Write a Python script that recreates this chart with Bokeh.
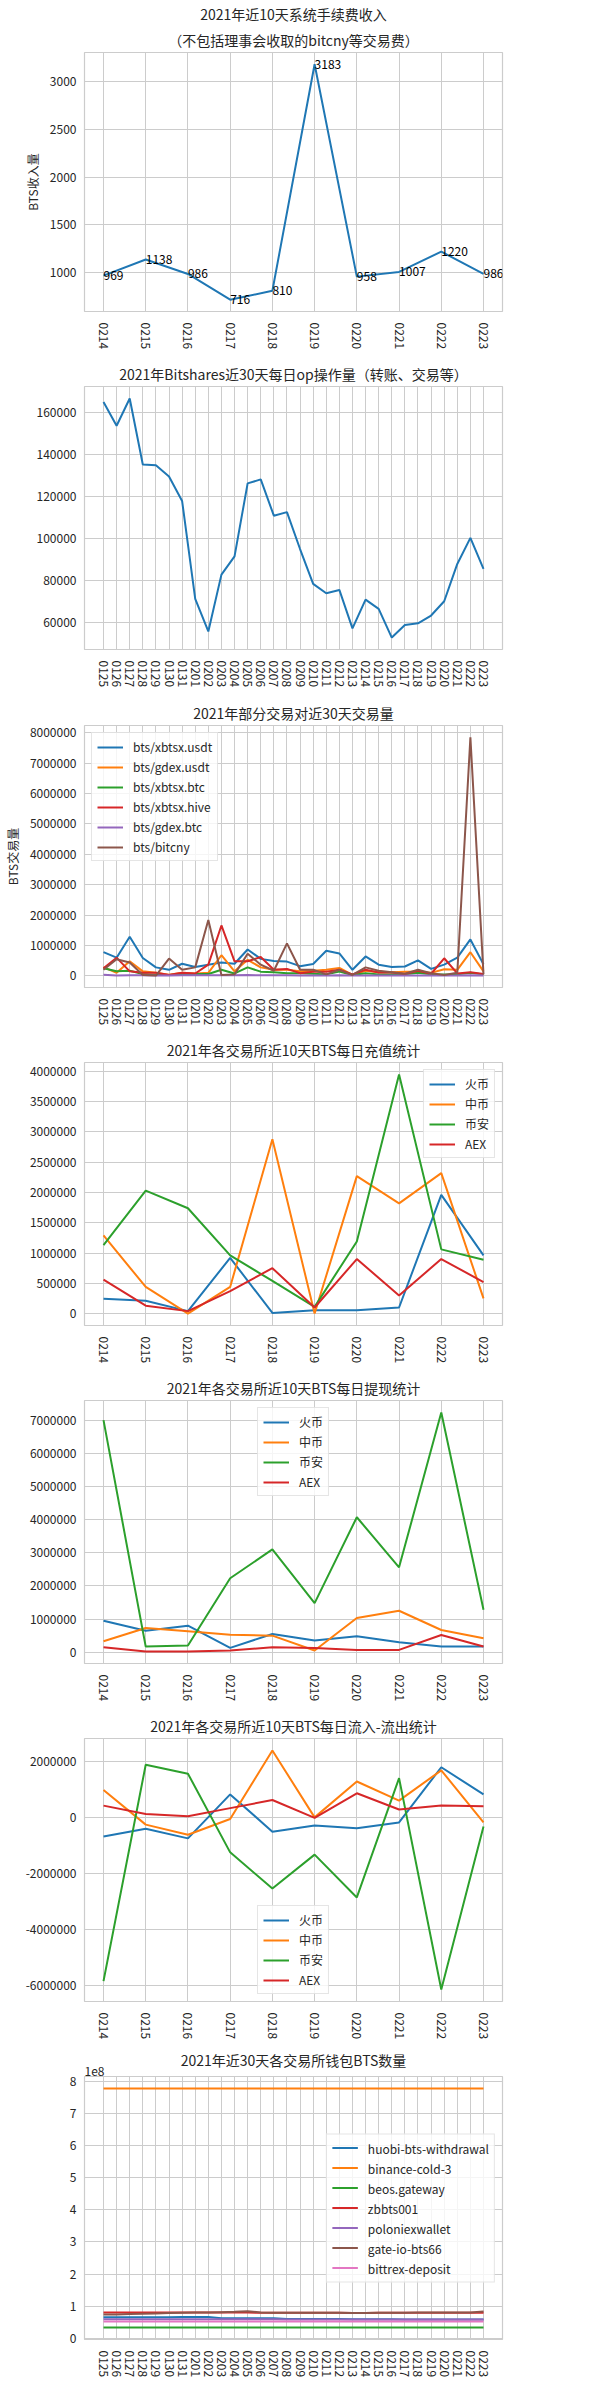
import math
from bokeh.plotting import figure
from bokeh.models import (Range1d, FixedTicker, NumeralTickFormatter, CustomJSTickFormatter,
                          Legend, LegendItem, Title, ColumnDataSource)
from bokeh.core.properties import value
from bokeh.layouts import column
from bokeh.embed import file_html
from bokeh.resources import INLINE

# ---------------- data ----------------
days10 = ["0214", "0215", "0216", "0217", "0218", "0219", "0220", "0221", "0222", "0223"]
days30 = ["0125", "0126", "0127", "0128", "0129", "0130", "0131",
          "0201", "0202", "0203", "0204", "0205", "0206", "0207", "0208", "0209",
          "0210", "0211", "0212", "0213", "0214", "0215", "0216", "0217", "0218", "0219",
          "0220", "0221", "0222", "0223"]

fee = [969, 1138, 986, 716, 810, 3183, 958, 1007, 1220, 986]

ops = [165000, 153700, 166700, 135200, 134800, 129500, 117800, 71100, 55600, 82700,
       91400, 126200, 128100, 110800, 112500, 94900, 78300, 73800, 75400, 57100,
       70800, 66400, 52700, 58700, 59500, 63200, 70000, 87800, 100200, 85400]

pair_names = ["bts/xbtsx.usdt", "bts/gdex.usdt", "bts/xbtsx.btc", "bts/xbtsx.hive", "bts/gdex.btc", "bts/bitcny"]
xbtsx_usdt = [780000, 600000, 1290000, 590000, 280000, 200000, 400000,
              290000, 370000, 440000, 400000, 870000, 560000, 490000, 470000, 320000,
              390000, 830000, 740000, 200000, 640000, 370000, 290000, 310000, 510000, 230000,
              370000, 600000, 1200000, 380000]
gdex_usdt = [290000, 100000, 480000, 150000, 100000, 40000, 100000,
             80000, 100000, 680000, 150000, 530000, 280000, 200000, 200000, 150000,
             170000, 200000, 260000, 30000, 170000, 120000, 120000, 140000, 140000, 100000,
             220000, 200000, 780000, 150000]
xbtsx_btc = [250000, 150000, 170000, 60000, 30000, 30000, 50000,
             60000, 60000, 200000, 80000, 280000, 140000, 120000, 90000, 90000,
             70000, 50000, 140000, 30000, 90000, 50000, 50000, 50000, 100000, 50000,
             50000, 50000, 100000, 50000]
xbtsx_hive = [250000, 600000, 150000, 100000, 100000, 30000, 100000,
              80000, 370000, 1660000, 480000, 480000, 620000, 200000, 230000, 90000,
              140000, 140000, 200000, 50000, 200000, 110000, 110000, 60000, 170000, 70000,
              580000, 80000, 120000, 60000]
gdex_btc = [40000, 10000, 20000, 20000, 10000, 10000, 20000,
            20000, 20000, 20000, 20000, 30000, 20000, 20000, 20000, 10000,
            10000, 10000, 20000, 10000, 10000, 10000, 10000, 10000, 10000, 10000,
            10000, 10000, 20000, 10000]
bitcny = [200000, 550000, 440000, 30000, 10000, 570000, 200000,
          280000, 1840000, 30000, 50000, 730000, 370000, 170000, 1070000, 200000,
          200000, 50000, 200000, 30000, 280000, 170000, 120000, 70000, 200000, 90000,
          30000, 100000, 7850000, 50000]

exch_names = ["火币", "中币", "币安", "AEX"]
huobi_in = [246000, 210000, 40000, 920000, 10000, 55000, 55000, 100000, 1960000, 960000]
zb_in = [1290000, 440000, 0, 440000, 2880000, 0, 2270000, 1820000, 2320000, 250000]
bn_in = [1130000, 2030000, 1740000, 960000, 540000, 110000, 1190000, 3950000, 1060000, 890000]
aex_in = [560000, 130000, 40000, 370000, 750000, 100000, 900000, 300000, 900000, 520000]

huobi_out = [950000, 650000, 800000, 130000, 550000, 350000, 480000, 300000, 170000, 170000]
zb_out = [330000, 730000, 630000, 530000, 500000, 50000, 1030000, 1250000, 670000, 420000]
bn_out = [7000000, 170000, 200000, 2230000, 3100000, 1480000, 4070000, 2560000, 7230000, 1280000]
aex_out = [150000, 20000, 20000, 50000, 150000, 130000, 70000, 70000, 520000, 170000]

huobi_net = [-660000, -390000, -730000, 840000, -490000, -270000, -370000, -160000, 1810000, 840000]
zb_net = [1000000, -240000, -600000, -40000, 2410000, 20000, 1300000, 620000, 1700000, -160000]
bn_net = [-5830000, 1900000, 1580000, -1230000, -2520000, -1310000, -2840000, 1420000, -6130000, -310000]
aex_net = [440000, 140000, 60000, 350000, 640000, 0, 880000, 300000, 440000, 420000]

wallet_names = ["huobi-bts-withdrawal", "binance-cold-3", "beos.gateway", "zbbts001",
                "poloniexwallet", "gate-io-bts66", "bittrex-deposit"]
w_huobi = [0.65e8, 0.65e8, 0.65e8, 0.65e8, 0.65e8, 0.65e8, 0.66e8, 0.66e8, 0.66e8, 0.62e8,
           0.62e8, 0.62e8, 0.62e8, 0.62e8, 0.60e8, 0.60e8, 0.60e8, 0.60e8, 0.60e8, 0.59e8,
           0.59e8, 0.59e8, 0.59e8, 0.58e8, 0.58e8, 0.58e8, 0.58e8, 0.58e8, 0.58e8, 0.58e8]
w_binance = [7.79e8] * 30
w_beos = [0.33e8] * 30
w_zb = [0.80e8, 0.80e8, 0.80e8, 0.80e8, 0.80e8, 0.80e8, 0.80e8, 0.80e8, 0.80e8, 0.80e8,
        0.80e8, 0.80e8, 0.79e8, 0.79e8, 0.79e8, 0.79e8, 0.79e8, 0.79e8, 0.79e8, 0.78e8,
        0.78e8, 0.79e8, 0.79e8, 0.79e8, 0.79e8, 0.79e8, 0.79e8, 0.79e8, 0.79e8, 0.79e8]
w_polo = [0.59e8, 0.59e8, 0.59e8, 0.59e8, 0.59e8, 0.59e8, 0.59e8, 0.59e8, 0.59e8, 0.59e8,
          0.59e8, 0.59e8, 0.59e8, 0.59e8, 0.58e8, 0.58e8, 0.58e8, 0.58e8, 0.58e8, 0.58e8,
          0.58e8, 0.58e8, 0.58e8, 0.58e8, 0.58e8, 0.58e8, 0.58e8, 0.58e8, 0.58e8, 0.58e8]
w_gate = [0.74e8, 0.74e8, 0.75e8, 0.76e8, 0.77e8, 0.78e8, 0.79e8, 0.80e8, 0.80e8, 0.81e8,
          0.82e8, 0.84e8, 0.80e8, 0.79e8, 0.79e8, 0.79e8, 0.79e8, 0.79e8, 0.79e8, 0.78e8,
          0.78e8, 0.79e8, 0.79e8, 0.79e8, 0.80e8, 0.80e8, 0.80e8, 0.80e8, 0.80e8, 0.83e8]
w_bittrex = [0.52e8] * 30

# ---------------- style ----------------
FONT = "Noto Sans CJK SC"
TXT = "#262626"
GRID = "#cccccc"
COLORS = ["#1f77b4", "#ff7f0e", "#2ca02c", "#d62728", "#9467bd", "#8c564b", "#e377c2"]


def make_fig(titles, dates, series, height, top, bottom, ticks, ylabel=None, corner=None):
    n = len(dates)
    pad = 0.05 * (n - 1)
    allv = [v for s in series for v in s]
    lo, hi = min(allv), max(allv)
    ypad = 0.05 * (hi - lo)
    p = figure(width=584, height=height, output_backend="svg", toolbar_location=None,
               x_range=Range1d(-pad, n - 1 + pad), y_range=Range1d(lo - ypad, hi + ypad),
               min_border_left=71, min_border_right=82, min_border_top=top,
               min_border_bottom=bottom, title=None)
    if corner:
        p.add_layout(Title(text=corner, align="left", text_font=FONT, text_font_size="12px",
                           text_font_style="normal", text_color=TXT, standoff=2), "above")
    for i, t in enumerate(reversed(titles)):
        if corner:
            so = -12
        else:
            so = 6 if i == 0 else 2
        p.add_layout(Title(text=t, align="center", text_font=FONT, text_font_size="14px",
                           text_font_style="normal", text_color=TXT, standoff=so), "above")
    p.xaxis.ticker = FixedTicker(ticks=list(range(n)))
    p.xaxis.major_label_overrides = {i: d for i, d in enumerate(dates)}
    p.xaxis.major_label_orientation = "vertical"
    p.xaxis.major_label_standoff = 11
    p.yaxis.ticker = FixedTicker(ticks=ticks)
    p.yaxis.formatter = NumeralTickFormatter(format="0")
    p.yaxis.major_label_standoff = 8
    for ax in p.axis:
        ax.axis_line_color = None
        ax.major_tick_line_color = None
        ax.minor_tick_line_color = None
        ax.major_tick_out = 0
        ax.major_label_text_font = FONT
        ax.major_label_text_font_size = "12px"
        ax.major_label_text_color = TXT
    if ylabel:
        p.yaxis.axis_label = ylabel
        p.yaxis.axis_label_text_font = FONT
        p.yaxis.axis_label_text_font_size = "12px"
        p.yaxis.axis_label_text_font_style = "normal"
        p.yaxis.axis_label_text_color = TXT
        p.yaxis.axis_label_standoff = 6
    p.outline_line_color = GRID
    p.outline_line_width = 1.2
    p.grid.grid_line_color = GRID
    p.grid.grid_line_width = 1
    return p


def add_lines(p, dates, series, names, location):
    items = []
    x = list(range(len(dates)))
    for i, (s, nm) in enumerate(zip(series, names)):
        r = p.line(x, s, line_color=COLORS[i], line_width=2)
        items.append(LegendItem(label=nm, renderers=[r]))
    lg = Legend(items=items, location=location, label_text_font=FONT,
                label_text_font_size="12px", label_text_color=TXT,
                glyph_width=26, glyph_height=16, label_height=16, label_standoff=10,
                spacing=3, padding=5, margin=7, border_line_color=GRID,
                border_line_width=1, background_fill_alpha=0.8)
    p.add_layout(lg)


# 1: fee income
p1 = make_fig(["2021年近10天系统手续费收入", "（不包括理事会收取的bitcny等交易费）"], days10, [fee],
              356, 48, 45, [1000, 1500, 2000, 2500, 3000], ylabel="BTS收入量")
x10 = list(range(len(days10)))
p1.line(x10, fee, line_color=COLORS[0], line_width=2)
src = ColumnDataSource(dict(x=x10, y=fee, t=[str(v) for v in fee]))
p1.text(x="x", y="y", text="t", source=src, text_font=value(FONT), text_font_size="12px",
        text_color="#000000", text_align="left", text_baseline="alphabetic")

# 2: ops
p2 = make_fig(["2021年Bitshares近30天每日op操作量（转账、交易等）"], days30, [ops],
              341, 30, 48, [60000, 80000, 100000, 120000, 140000, 160000])
p2.line(list(range(len(days30))), ops, line_color=COLORS[0], line_width=2)

# 3: trading pairs
pairs = [xbtsx_usdt, gdex_usdt, xbtsx_btc, xbtsx_hive, gdex_btc, bitcny]
p3 = make_fig(["2021年部分交易对近30天交易量"], days30, pairs, 335, 27, 45,
              [0, 1000000, 2000000, 3000000, 4000000, 5000000, 6000000, 7000000, 8000000],
              ylabel="BTS交易量")
add_lines(p3, days30, pairs, pair_names, "top_left")

# 4: deposits
dep = [huobi_in, zb_in, bn_in, aex_in]
p4 = make_fig(["2021年各交易所近10天BTS每日充值统计"], days10, dep, 338, 30, 45,
              [0, 500000, 1000000, 1500000, 2000000, 2500000, 3000000, 3500000, 4000000])
add_lines(p4, days10, dep, exch_names, "top_right")

# 5: withdrawals
wd = [huobi_out, zb_out, bn_out, aex_out]
p5 = make_fig(["2021年各交易所近10天BTS每日提现统计"], days10, wd, 337, 30, 44,
              [0, 1000000, 2000000, 3000000, 4000000, 5000000, 6000000, 7000000])
add_lines(p5, days10, wd, exch_names, "top_center")

# 6: net flow
net = [huobi_net, zb_net, bn_net, aex_net]
p6 = make_fig(["2021年各交易所近10天BTS每日流入-流出统计"], days10, net, 340, 31, 46,
              [-6000000, -4000000, -2000000, 0, 2000000])
add_lines(p6, days10, net, exch_names, "bottom_center")

# 7: wallets
wallets = [w_huobi, w_binance, w_beos, w_zb, w_polo, w_gate, w_bittrex]
p7 = make_fig(["2021年近30天各交易所钱包BTS数量"], days30, wallets, 337, 29, 45,
              [0, 1e8, 2e8, 3e8, 4e8, 5e8, 6e8, 7e8, 8e8], corner="1e8")
p7.yaxis.formatter = CustomJSTickFormatter(code="return (tick / 1e8).toFixed(0);")
add_lines(p7, days30, wallets, wallet_names, "center_right")

layout = column(p1, p2, p3, p4, p5, p6, p7)
open("out.html", "w").write(file_html(layout, INLINE))
